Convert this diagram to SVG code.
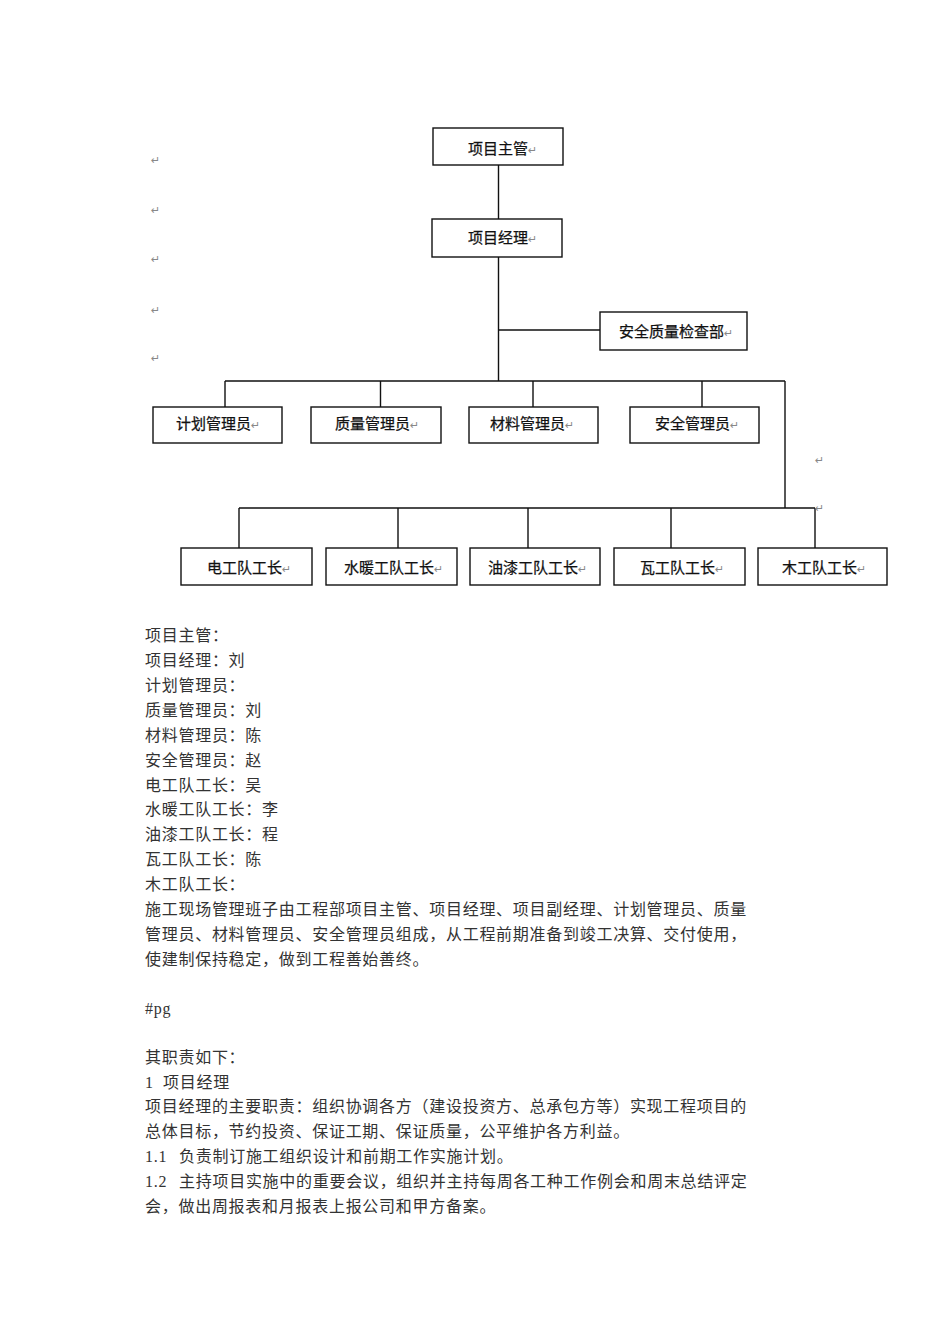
<svg xmlns="http://www.w3.org/2000/svg" width="950" height="1344" viewBox="0 0 950 1344">
<style>
.box{fill:#fff;stroke:#111;stroke-width:1.4}
.ln{stroke:#111;stroke-width:1.4;fill:none}
.lbl{font-family:"Noto Sans CJK SC",sans-serif;font-size:15px;fill:#111;stroke:#111;stroke-width:0.25}
.pm{font-family:"DejaVu Sans",sans-serif;font-size:11px;fill:#888;stroke:none}
.body{font-family:"Liberation Serif","Noto Sans CJK SC",serif;font-size:16px;letter-spacing:0.72px;fill:#333}
</style>
<rect width="950" height="1344" fill="#fff"/>
<g id="connectors">
<path class="ln" d="M498.5 165V219M498.5 257V381M498.5 330H600"/>
<path class="ln" d="M225 381H785M225 381V407M380.5 381V407M533 381V407M702 381V407M785 381V508"/>
<path class="ln" d="M239 508H815M239 508V548M398 508V548M528 508V548M671 508V548M815 508V548"/>
</g>
<g id="n1"><rect class="box" x="433" y="128" width="130" height="37"/><text class="lbl" x="468" y="154">项目主管<tspan class="pm">↵</tspan></text></g>
<g id="n2"><rect class="box" x="432" y="219" width="130" height="38"/><text class="lbl" x="468" y="243">项目经理<tspan class="pm">↵</tspan></text></g>
<g id="n3"><rect class="box" x="600" y="312" width="147" height="38"/><text class="lbl" x="619" y="337">安全质量检查部<tspan class="pm">↵</tspan></text></g>
<g id="n4"><rect class="box" x="153" y="407" width="129" height="36"/><text class="lbl" x="176" y="429">计划管理员<tspan class="pm">↵</tspan></text></g>
<g id="n5"><rect class="box" x="311" y="407" width="130" height="36"/><text class="lbl" x="335" y="429">质量管理员<tspan class="pm">↵</tspan></text></g>
<g id="n6"><rect class="box" x="469" y="407" width="129" height="36"/><text class="lbl" x="490" y="429">材料管理员<tspan class="pm">↵</tspan></text></g>
<g id="n7"><rect class="box" x="630" y="407" width="129" height="36"/><text class="lbl" x="655" y="429">安全管理员<tspan class="pm">↵</tspan></text></g>
<g id="n8"><rect class="box" x="181" y="548" width="131" height="37"/><text class="lbl" x="207" y="573">电工队工长<tspan class="pm">↵</tspan></text></g>
<g id="n9"><rect class="box" x="326" y="548" width="131" height="37"/><text class="lbl" x="344" y="573">水暖工队工长<tspan class="pm">↵</tspan></text></g>
<g id="n10"><rect class="box" x="470" y="548" width="130" height="37"/><text class="lbl" x="488" y="573">油漆工队工长<tspan class="pm">↵</tspan></text></g>
<g id="n11"><rect class="box" x="614" y="548" width="131" height="37"/><text class="lbl" x="640" y="573">瓦工队工长<tspan class="pm">↵</tspan></text></g>
<g id="n12"><rect class="box" x="758" y="548" width="129" height="37"/><text class="lbl" x="782" y="573">木工队工长<tspan class="pm">↵</tspan></text></g>
<g id="marks">
<text class="pm" x="151" y="164">↵</text>
<text class="pm" x="151" y="214">↵</text>
<text class="pm" x="151" y="263">↵</text>
<text class="pm" x="151" y="314">↵</text>
<text class="pm" x="151" y="362">↵</text>
<text class="pm" x="815" y="464">↵</text>
<text class="pm" x="815" y="512">↵</text>
</g>
<g id="body">
<text class="body" x="145" y="641">项目主管：</text>
<text class="body" x="145" y="666">项目经理：刘</text>
<text class="body" x="145" y="691">计划管理员：</text>
<text class="body" x="145" y="716">质量管理员：刘</text>
<text class="body" x="145" y="741">材料管理员：陈</text>
<text class="body" x="145" y="766">安全管理员：赵</text>
<text class="body" x="145" y="791">电工队工长：吴</text>
<text class="body" x="145" y="815">水暖工队工长：李</text>
<text class="body" x="145" y="840">油漆工队工长：程</text>
<text class="body" x="145" y="865">瓦工队工长：陈</text>
<text class="body" x="145" y="890">木工队工长：</text>
<text class="body" x="145" y="915">施工现场管理班子由工程部项目主管、项目经理、项目副经理、计划管理员、质量</text>
<text class="body" x="145" y="940">管理员、材料管理员、安全管理员组成，从工程前期准备到竣工决算、交付使用，</text>
<text class="body" x="145" y="965">使建制保持稳定，做到工程善始善终。</text>
<text class="body" x="145" y="1014">#pg</text>
<text class="body" x="145" y="1063">其职责如下：</text>
<text class="body" x="145" y="1088">1</text><text class="body" x="163" y="1088">项目经理</text>
<text class="body" x="145" y="1112">项目经理的主要职责：组织协调各方（建设投资方、总承包方等）实现工程项目的</text>
<text class="body" x="145" y="1137">总体目标，节约投资、保证工期、保证质量，公平维护各方利益。</text>
<text class="body" x="145" y="1162">1.1</text><text class="body" x="179" y="1162">负责制订施工组织设计和前期工作实施计划。</text>
<text class="body" x="145" y="1187">1.2</text><text class="body" x="179" y="1187">主持项目实施中的重要会议，组织并主持每周各工种工作例会和周末总结评定</text>
<text class="body" x="145" y="1212">会，做出周报表和月报表上报公司和甲方备案。</text>
</g>
</svg>
